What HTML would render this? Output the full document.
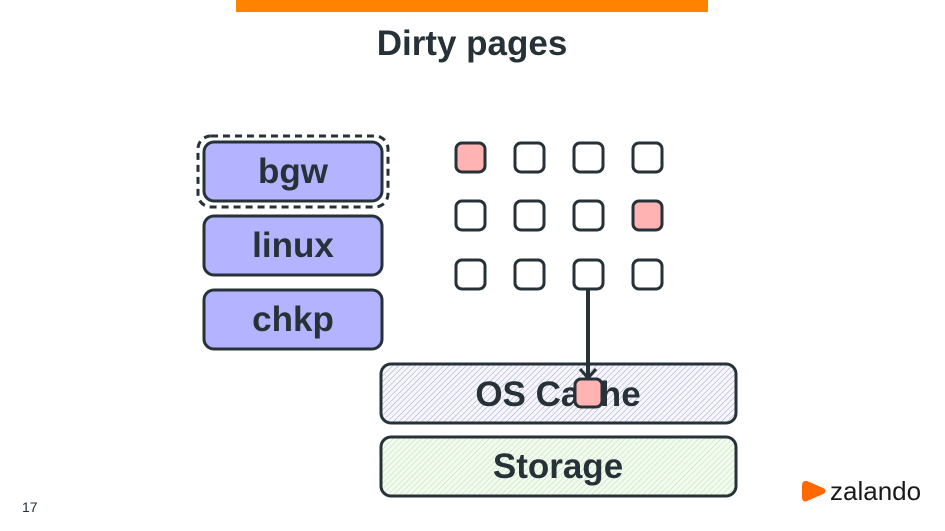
<!DOCTYPE html>
<html><head><meta charset="utf-8"><style>
html,body{margin:0;padding:0;background:#fff;width:945px;height:531px;overflow:hidden}
svg text{font-family:"Liberation Sans",sans-serif}
</style></head><body>
<svg width="945" height="531" viewBox="0 0 945 531" xmlns="http://www.w3.org/2000/svg">
<defs>
<pattern id="hb" width="4" height="4" patternUnits="userSpaceOnUse" patternTransform="rotate(45)">
<rect width="4" height="4" fill="#f6f6fb"/><line x1="0" y1="0" x2="0" y2="4" stroke="#a0a0d8" stroke-width="1"/></pattern>
<pattern id="hg" width="4" height="4" patternUnits="userSpaceOnUse" patternTransform="rotate(45)">
<rect width="4" height="4" fill="#f3fbf1"/><line x1="0" y1="0" x2="0" y2="4" stroke="#b2e0aa" stroke-width="1"/></pattern>
</defs>
<rect x="236" y="0" width="472" height="12" fill="#ff8200"/>
<text x="472" y="55" text-anchor="middle" font-size="35" font-weight="bold" fill="#263238">Dirty pages</text>

<rect x="198" y="136" width="190" height="71" rx="13" fill="none" stroke="#263238" stroke-width="3" stroke-dasharray="7,5"/>
<g stroke="#263238" stroke-width="3" fill="#b3b3ff">
<rect x="204" y="142" width="178" height="59" rx="10"/>
<rect x="204" y="216" width="178" height="59" rx="10"/>
<rect x="204" y="290" width="178" height="59" rx="10"/>
</g>
<g font-size="35" font-weight="bold" fill="#263238" text-anchor="middle">
<text x="293" y="183">bgw</text>
<text x="293" y="257">linux</text>
<text x="293" y="331">chkp</text>
</g>

<g stroke="#263238" stroke-width="3" fill="#fff">
<rect x="456" y="143" width="29" height="29" rx="6" fill="#ffb3b3"/>
<rect x="515" y="143" width="29" height="29" rx="6"/>
<rect x="574" y="143" width="29" height="29" rx="6"/>
<rect x="633" y="143" width="29" height="29" rx="6"/>
<rect x="456" y="201" width="29" height="29" rx="6"/>
<rect x="515" y="201" width="29" height="29" rx="6"/>
<rect x="574" y="201" width="29" height="29" rx="6"/>
<rect x="633" y="201" width="29" height="29" rx="6" fill="#ffb3b3"/>
<rect x="456" y="260" width="29" height="29" rx="6"/>
<rect x="515" y="260" width="29" height="29" rx="6"/>
<rect x="574" y="260" width="29" height="29" rx="6"/>
<rect x="633" y="260" width="29" height="29" rx="6"/>
</g>

<rect x="381" y="364" width="355" height="59" rx="10" fill="url(#hb)" stroke="#263238" stroke-width="3"/>
<rect x="381" y="437" width="355" height="59" rx="10" fill="url(#hg)" stroke="#263238" stroke-width="3"/>
<g font-size="35" font-weight="bold" fill="#263238" text-anchor="middle">
<text x="558" y="406">OS Cache</text>
<text x="558" y="478">Storage</text>
</g>
<line x1="588" y1="289" x2="588" y2="378" stroke="#263238" stroke-width="4"/>
<polyline points="580,369 588,378 596,369" fill="none" stroke="#263238" stroke-width="3"/>
<rect x="575" y="379" width="27" height="28" rx="6" fill="#ffb3b3" stroke="#263238" stroke-width="3"/>

<text x="22" y="512" font-size="14" fill="#263238">17</text>
<path d="M807,482 Q803,481 803,486 L803,497 Q803,502 807,500 L823,493 Q826,491 823,489 Z" fill="#ff6900" stroke="#ff6900" stroke-width="2" stroke-linejoin="round"/>
<text x="830" y="500" font-size="26" fill="#1a1a1a">zalando</text>
</svg>
</body></html>
